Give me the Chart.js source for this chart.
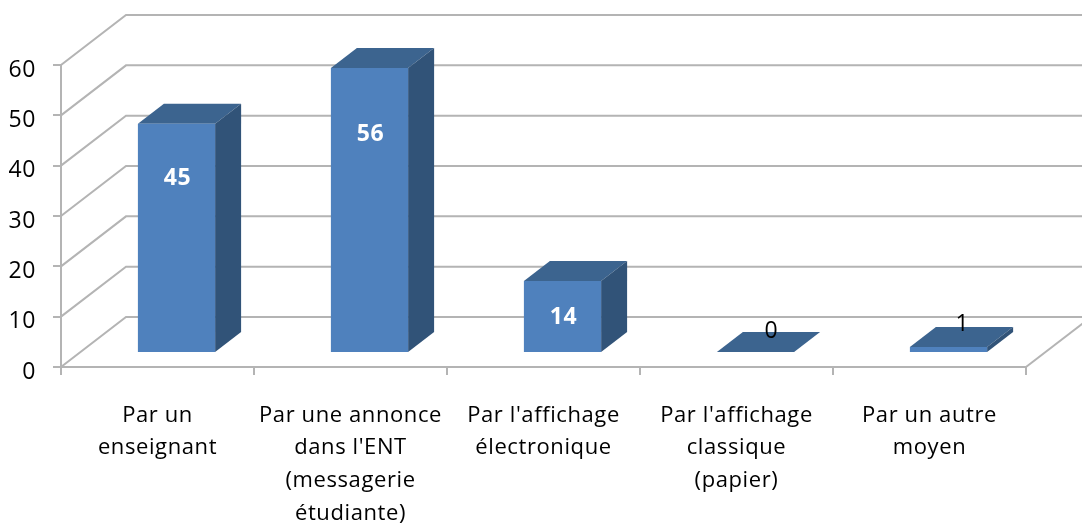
<!DOCTYPE html>
<html lang="fr">
<head>
<meta charset="utf-8">
<title>Chart</title>
<script src="https://cdn.jsdelivr.net/npm/chart.js@4"></script>
<style>
  html, body { margin: 0; padding: 0; background: #fff; overflow: hidden; }
  #chart { display: block; filter: blur(0.6px); }
</style>
</head>
<body>
<canvas id="chart" width="1082" height="525"></canvas>
<script>
// Chart data
const categories = [
  ['Par un', 'enseignant'],
  ['Par une annonce', "dans l'ENT", '(messagerie', 'étudiante)'],
  ["Par l'affichage", 'électronique'],
  ["Par l'affichage", 'classique', '(papier)'],
  ['Par un autre', 'moyen'],
];
const values = [45, 56, 14, 0, 1];
const yTicks = [0, 10, 20, 30, 40, 50, 60];

// Look of the fake 3D box
const fontFamily = '"Open Sans", sans-serif';
const gridColor = '#b4b4b4';
const frontColor = '#4f81bd';
const topColor = '#3c648f';
const sideColor = '#315378';
const wallDepth = { x: 65, y: 50 };
const barDepth = { x: 26, y: 20 };
const barShift = 19;

// Label placement inside the bars (distance below the bar top, x nudge)
const labelDrop = [55, 66, 36, -21, -22];
const labelNudge = [1, 1, 1, 16, 14];

function polygon(ctx, points, color) {
  ctx.fillStyle = color;
  ctx.beginPath();
  points.forEach(([x, y], i) => (i ? ctx.lineTo(x, y) : ctx.moveTo(x, y)));
  ctx.closePath();
  ctx.fill();
}

// Back wall lines, floor edge and the top/side faces of the bars
const box3d = {
  id: 'box3d',
  beforeDraw(chart) {
    // The original text is set quite loose
    chart.ctx.letterSpacing = '0.6px';
  },
  beforeDatasetsDraw(chart) {
    const { ctx, chartArea, scales } = chart;
    ctx.save();
    ctx.strokeStyle = gridColor;
    ctx.lineWidth = 2;
    yTicks.forEach((tick) => {
      const y = scales.y.getPixelForValue(tick);
      ctx.beginPath();
      ctx.moveTo(chartArea.left, y);
      ctx.lineTo(chartArea.left + wallDepth.x, y - wallDepth.y);
      ctx.lineTo(chartArea.right + wallDepth.x, y - wallDepth.y);
      ctx.stroke();
    });
    const floorY = scales.y.getPixelForValue(0);
    ctx.beginPath();
    ctx.moveTo(chartArea.right, floorY);
    ctx.lineTo(chartArea.right + wallDepth.x, floorY - wallDepth.y);
    ctx.stroke();

    chart.getDatasetMeta(0).data.forEach((bar) => {
      const left = bar.x - bar.width / 2 + barShift;
      const right = bar.x + bar.width / 2 + barShift;
      polygon(ctx, [
        [left, bar.y],
        [left + barDepth.x, bar.y - barDepth.y],
        [right + barDepth.x, bar.y - barDepth.y],
        [right, bar.y],
      ], topColor);
      polygon(ctx, [
        [right, bar.y],
        [right + barDepth.x, bar.y - barDepth.y],
        [right + barDepth.x, bar.base - barDepth.y],
        [right, bar.base],
      ], sideColor);
    });
    ctx.restore();

    ctx.save();
    ctx.translate(barShift, 0);
  },
  afterDatasetsDraw(chart) {
    const { ctx } = chart;
    ctx.restore();

    ctx.save();
    ctx.textAlign = 'center';
    ctx.textBaseline = 'middle';
    chart.getDatasetMeta(0).data.forEach((bar, i) => {
      const inside = values[i] > 1;
      ctx.font = `${inside ? 'bold ' : ''}23px ${fontFamily}`;
      ctx.fillStyle = inside ? '#fff' : '#000';
      ctx.fillText(String(values[i]), bar.x + barShift + labelNudge[i], bar.y + labelDrop[i]);
    });
    ctx.restore();
  },
};

new Chart(document.getElementById('chart'), {
  type: 'bar',
  data: {
    labels: categories,
    datasets: [{
      data: values,
      yAxisID: 'yBars',
      backgroundColor: frontColor,
      borderWidth: 0,
      barPercentage: 0.4,
      categoryPercentage: 1,
    }],
  },
  plugins: [box3d],
  options: {
    responsive: false,
    animation: false,
    layout: { padding: { top: 65, right: 56, left: 0, bottom: 0 } },
    plugins: { legend: { display: false }, tooltip: { enabled: false } },
    scales: {
      x: {
        grid: { drawOnChartArea: false, color: gridColor, tickLength: 8, lineWidth: 2 },
        border: { color: gridColor, width: 2 },
        ticks: {
          color: '#000',
          autoSkip: false,
          maxRotation: 0,
          padding: 24,
          font: { family: fontFamily, size: 22, lineHeight: '32.7px' },
        },
        afterFit(scale) { scale.height = 158; },
      },
      y: {
        min: 0,
        max: 60,
        grid: { drawOnChartArea: false, color: gridColor, tickLength: 8, lineWidth: 2 },
        border: { color: gridColor, width: 2 },
        afterBuildTicks(scale) { scale.ticks = yTicks.map((value) => ({ value })); },
        ticks: {
          color: '#000',
          padding: 17,
          // empty first line pushes the number a few pixels under its tick
          callback: (value) => ['', String(value)],
          font: { family: fontFamily, size: 23, lineHeight: '10px' },
        },
        afterFit(scale) { scale.width = 61; },
      },
      // Bars stand forward of the wall, so they sit on their own hidden scale
      yBars: { display: false, min: -2.96, max: 56.61 },
    },
  },
});
</script>
</body>
</html>
